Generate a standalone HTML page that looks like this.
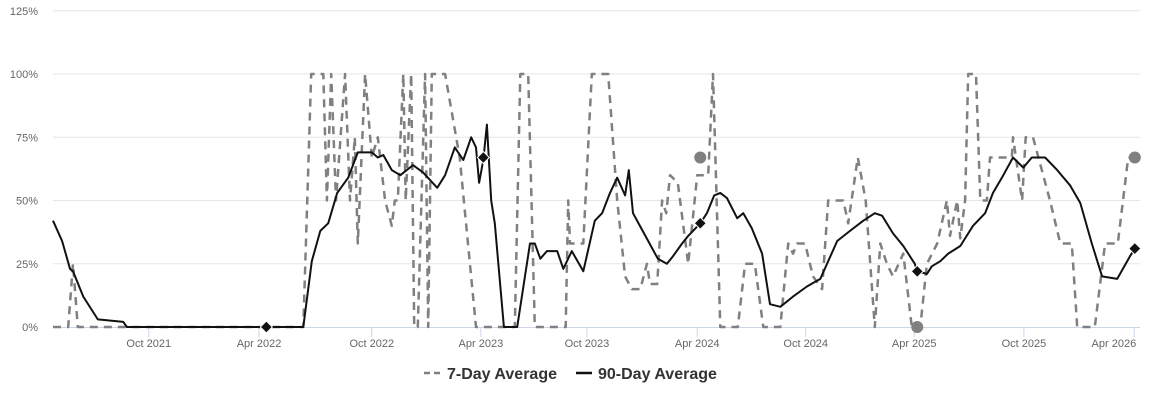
<!DOCTYPE html>
<html><head><meta charset="utf-8"><style>
body{margin:0;background:#fff;font-family:"Liberation Sans",sans-serif}
svg{display:block}
</style></head><body>
<svg id="chart" width="1150" height="401" viewBox="0 0 1150 401" xmlns="http://www.w3.org/2000/svg">
<g id="grid"></g>
<g id="yaxis"></g>
<g id="xaxis"></g>
<g id="series"></g>
<g id="legend">
 <g>
  <line x1="424" y1="373" x2="440" y2="373" stroke="#808080" stroke-width="2.5" stroke-dasharray="6,4"/>
  <text x="447" y="379" font-size="16" font-weight="bold" fill="#333">7-Day Average</text>
 </g>
 <g>
  <line x1="576" y1="373" x2="592" y2="373" stroke="#111" stroke-width="2.5"/>
  <text x="598" y="379" font-size="16" font-weight="bold" fill="#333">90-Day Average</text>
 </g>
</g>
</svg>
<script>
const yTicks=[0,25,50,75,100,125];
const xTickDays=[158,340,526,706,881,1063,1242,1421,1602,1784];
const xTickLabels=["Oct 2021","Apr 2022","Oct 2022","Apr 2023","Oct 2023","Apr 2024","Oct 2024","Apr 2025","Oct 2025","Apr 2026"];
const days90=[0,15,28,33,50,74,116,122,413,427,441,454,469,487,503,526,536,545,559,573,594,611,634,647,663,677,690,698,703,710,716,723,729,744,766,787,795,804,815,832,842,856,875,894,906,919,931,944,950,957,982,998,1013,1023,1038,1048,1068,1079,1091,1101,1112,1129,1139,1153,1170,1183,1200,1221,1244,1266,1294,1315,1337,1356,1368,1386,1403,1422,1426,1442,1450,1464,1477,1497,1518,1538,1551,1568,1584,1601,1615,1637,1657,1678,1695,1714,1731,1756,1777,1785];
const vals90=[42,34,23,22,12,3,2,0,0,26,38,41,53,59,69,69,67,68,62,60,64,61,55,60,71,66,75,71,57,66,80,50,41,0,0,33,33,27,30,30,23,30,22,42,45,53,59,52,62,45,34,27,25,28,33,36,41,45,52,53,51,43,45,39,29,9,8,12,16,19,34,38,42,45,44,37,32,25,22,21,24,26,29,32,40,45,53,60,67,63,67,67,62,56,49,33,20,19,28,31];
const days7=[0,25,33,41,413,426,446,452,459,467,482,490,498,503,515,526,536,548,559,564,569,578,582,591,596,602,614,619,625,647,671,698,762,771,784,795,846,850,853,875,889,916,931,944,955,969,980,985,997,1005,1012,1018,1031,1048,1063,1081,1089,1101,1130,1142,1158,1172,1200,1213,1221,1228,1241,1254,1269,1279,1304,1312,1328,1341,1356,1365,1376,1386,1403,1417,1431,1442,1459,1475,1480,1492,1497,1505,1510,1523,1530,1541,1546,1582,1584,1599,1605,1617,1645,1662,1681,1690,1719,1736,1757,1774,1785];
const vals7=[0,0,25,0,0,100,100,50,100,50,100,50,75,33,100,67,75,50,40,50,50,100,50,100,0,0,100,0,100,100,67,0,0,100,100,0,0,50,33,33,100,100,50,20,15,15,25,17,17,50,45,60,57,25,60,60,100,0,0,25,25,0,0,33,29,33,33,20,15,50,50,41,67,50,0,33,25,20,29,0,0,25,33,50,36,50,35,50,100,100,50,50,67,67,75,50,75,75,50,33,33,0,0,33,33,67,67];
const diamondDays=[352,710,1068,1426,1785];
const diamondVals=[0,67,41,22,31];
const circleDays=[1068,1426,1785];
const circleVals=[67,0,67];

const NS="http://www.w3.org/2000/svg";
const X0=53,X1=1135,Y0=327,Y100=74;
const x=d=>X0+d/1.65;
const y=v=>Y0-(Y0-Y100)*v/100;
function mk(tag,attrs,parent){const e=document.createElementNS(NS,tag);for(const k in attrs)e.setAttribute(k,attrs[k]);parent.appendChild(e);return e;}
const grid=document.getElementById('grid'),ya=document.getElementById('yaxis'),xa=document.getElementById('xaxis'),ser=document.getElementById('series');
yTicks.forEach(t=>{
 if(t>0){const g=mk('line',{x1:X0,x2:1140,y1:y(t),y2:y(t),stroke:'#e6e6e6','stroke-width':1},grid);
 
 }
 const tx=mk('text',{x:38,y:y(t)+4,'text-anchor':'end','font-size':11,fill:'#666'},ya);
 
 
 tx.textContent=t+'%';
});
const ax=mk('line',{x1:X0,x2:1140,y1:Y0+0.5,y2:Y0+0.5,stroke:'#ccd6eb','stroke-width':1},xa);


xTickDays.forEach((d,i)=>{
 const tk=mk('line',{x1:x(d),x2:x(d),y1:Y0,y2:Y0+10,stroke:'#ccd6eb','stroke-width':1},xa);
 
 
 const last=i===xTickDays.length-1;
 const tx=mk('text',{x:last?Math.min(x(d)+2,1137):x(d),y:347,'text-anchor':last?'end':'middle','font-size':11,fill:'#666'},xa);
 
 
 tx.textContent=xTickLabels[i];
});
function path(ds,vs){return ds.map((d,i)=>(i?'L':'M')+x(d).toFixed(1)+','+y(vs[i]).toFixed(1)).join('');}
const p7=mk('path',{d:path(days7,vals7),fill:'none',stroke:'#808080','stroke-width':2.5,'stroke-dasharray':'8,6','stroke-linejoin':'round'},ser);


const p90=mk('path',{d:path(days90,vals90),fill:'none',stroke:'#111','stroke-width':2,'stroke-linejoin':'round'},ser);


circleDays.forEach((d,i)=>{
 const c=mk('circle',{cx:x(d),cy:y(circleVals[i]),r:6,fill:'#808080'},ser);
 
 
});
diamondDays.forEach((d,i)=>{
 const cx=x(d),cy=y(diamondVals[i]),r=6;
 const m=mk('path',{d:`M${cx},${cy-r}L${cx+r},${cy}L${cx},${cy+r}L${cx-r},${cy}Z`,fill:'#111',stroke:'#fff','stroke-width':1},ser);
 
 
});
</script>
</body></html>
